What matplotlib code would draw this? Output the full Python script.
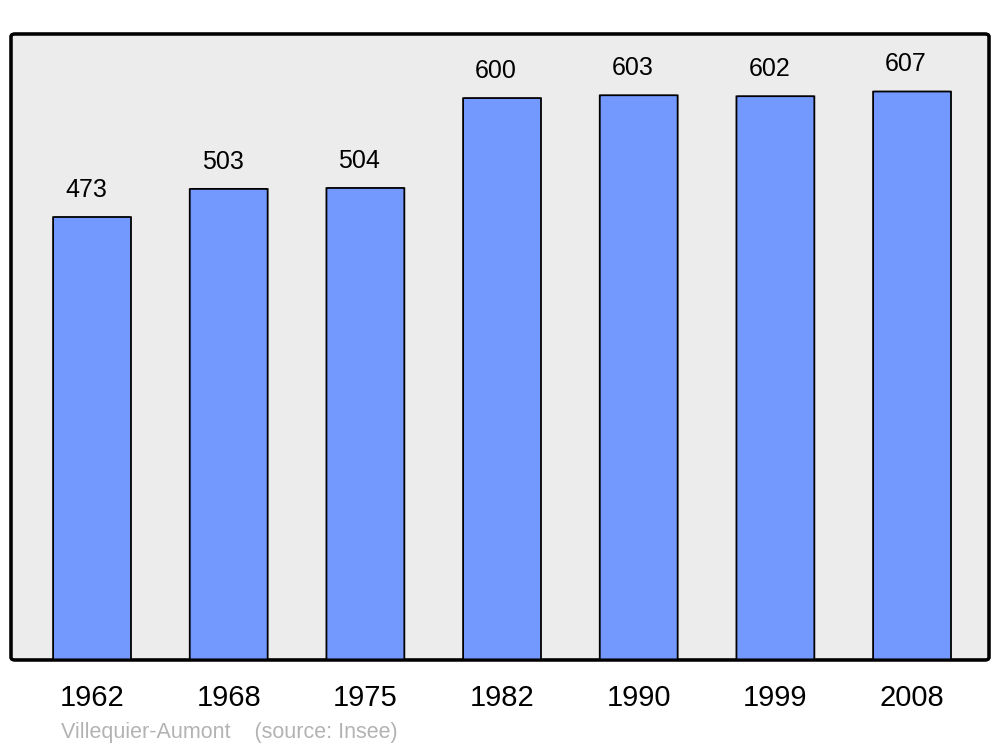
import matplotlib
matplotlib.use("Agg")
from matplotlib import pyplot as plt
from matplotlib.patches import FancyBboxPatch

years = ['1962', '1968', '1975', '1982', '1990', '1999', '2008']
population = [473, 503, 504, 600, 603, 602, 607]

plt.rcParams['font.family'] = ['Liberation Sans', 'DejaVu Sans']

fig = plt.figure(figsize=(10, 7.47), dpi=100)
ax = fig.add_axes([0.011, 0.1165, 0.978, 0.838])
ax.set_facecolor('none')

x = range(len(years))
for xi, v in zip(x, population):
    bar = FancyBboxPatch((xi - 0.285, 0), 0.57, v,
                         boxstyle="round,pad=0,rounding_size=0.025",
                         mutation_aspect=6.8,
                         facecolor='#7399ff', edgecolor='black', linewidth=1.3, zorder=2)
    ax.add_patch(bar)
    ax.text(xi - 0.045, v + 29, str(v), ha='center', va='center', fontsize=18, zorder=3)

ax.set_xlim(-0.593, 6.563)
ax.set_ylim(0, 668.4)
ax.set_xticks(list(x))
ax.set_xticklabels(years, fontsize=21)
ax.tick_params(axis='x', length=0, pad=17)
ax.set_yticks([])
for s in ax.spines.values():
    s.set_visible(False)

# rounded background frame
frame = FancyBboxPatch((0.0, 0.0), 1.0, 1.0, transform=ax.transAxes,
                       boxstyle="round,pad=0,rounding_size=0.004",
                       facecolor='#ececec', edgecolor='black', linewidth=2.2,
                       zorder=0, clip_on=False)
ax.add_patch(frame)
frame2 = FancyBboxPatch((0.0, 0.0), 1.0, 1.0, transform=ax.transAxes,
                        boxstyle="round,pad=0,rounding_size=0.004",
                        facecolor='none', edgecolor='black', linewidth=2.2,
                        zorder=4, clip_on=False)
ax.add_patch(frame2)

fig.text(0.061, 0.0125, 'Villequier-Aumont    (source: Insee)', fontsize=15.5,
         color='#b3b3b3', ha='left', va='baseline')

fig.savefig('out.png', dpi=100)
